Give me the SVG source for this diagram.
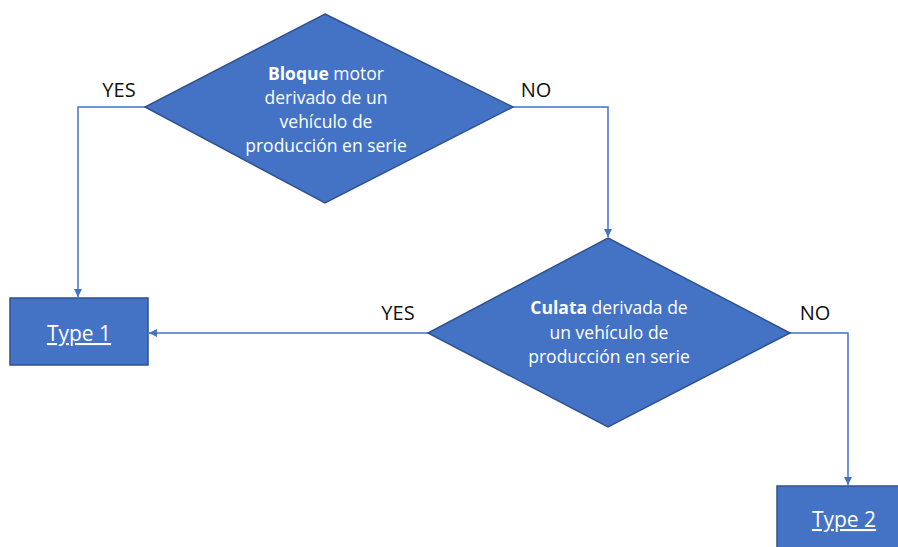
<svg xmlns="http://www.w3.org/2000/svg" width="898" height="547" viewBox="0 0 898 547">
<style>
.shape{fill:#4472C4;stroke:#2F528F;stroke-width:1.5}
.conn{fill:none;stroke:#4472C4;stroke-width:1.5}
.t{font-family:"Open Sans","Liberation Sans",sans-serif;fill:#ffffff;font-size:17.5px;text-anchor:middle}
.b{font-weight:bold}
.lbl{font-family:"Open Sans","Liberation Sans",sans-serif;fill:#111111;font-size:20px;text-anchor:middle}
.ty{font-family:"Open Sans","Liberation Sans",sans-serif;fill:#ffffff;font-size:21px;text-anchor:middle;text-decoration:underline}
</style>
<defs>
<marker id="ah" viewBox="0 0 10 10" refX="10" refY="5" markerWidth="8" markerHeight="8" markerUnits="userSpaceOnUse" orient="auto">
<path d="M0,0 L10,5 L0,10 z" fill="#4472C4"/>
</marker>
</defs>
<rect width="898" height="547" fill="#ffffff"/>
<g id="connectors">
<polyline class="conn" points="145,107 78,107 78,297" marker-end="url(#ah)"/>
<polyline class="conn" points="513,107 608,107 608,237" marker-end="url(#ah)"/>
<polyline class="conn" points="428,333 149,333" marker-end="url(#ah)"/>
<polyline class="conn" points="790,333 848,333 848,485" marker-end="url(#ah)"/>
</g>
<g id="labels">
<text class="lbl" x="119" y="97">YES</text>
<text class="lbl" x="536" y="97">NO</text>
<text class="lbl" x="398" y="320">YES</text>
<text class="lbl" x="815" y="320">NO</text>
</g>
<g id="decision1">
<polygon class="shape" points="325,14 513,107 325,203 145,107"/>
<text class="t" x="326" y="80"><tspan class="b">Bloque</tspan> motor</text>
<text class="t" x="326" y="104">derivado de un</text>
<text class="t" x="326" y="128">vehículo de</text>
<text class="t" x="326" y="152">producción en serie</text>
</g>
<g id="type1">
<rect class="shape" x="10" y="298" width="138" height="67"/>
<text class="ty" x="79" y="341">Type 1</text>
</g>
<g id="decision2">
<polygon class="shape" points="608,238 790,333 608,427 428,333"/>
<text class="t" x="609" y="314"><tspan class="b">Culata</tspan> derivada de</text>
<text class="t" x="609" y="339">un vehículo de</text>
<text class="t" x="609" y="363">producción en serie</text>
</g>
<g id="type2">
<rect class="shape" x="777" y="486" width="135" height="70"/>
<text class="ty" x="844" y="527">Type 2</text>
</g>
</svg>
